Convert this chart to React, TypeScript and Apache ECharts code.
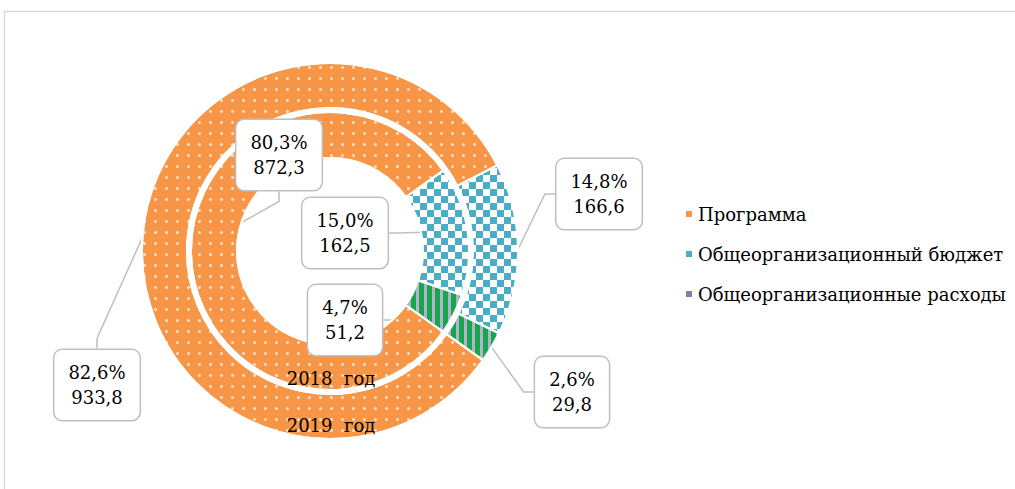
import React, { useEffect, useRef } from 'react';
import * as echarts from 'echarts';

const categories = ['Программа', 'Общеорганизационный бюджет', 'Общеорганизационные расходы'];
const values2018 = [872.3, 162.5, 51.2];
const values2019 = [933.8, 166.6, 29.8];
const percents2018 = [80.3, 15.0, 4.7];
const percents2019 = [82.6, 14.8, 2.6];
const yearLabels = ['2018  год', '2019  год'];

const legendColors = ['#F79646', '#4BACC6', '#8580A8'];

// label box centres [series][dataIndex]
const labelPos = [
  [[279, 155], [345, 233], [345, 320]],
  [[97, 385], [599, 194], [572, 392]],
];

const CX = 330;
const CY = 251;
const FONT = 'DejaVu Serif';
const FS = 18;

const itemStyles: any[] = [
  {
    color: '#F79646',
    decal: {
      symbol: 'circle',
      symbolSize: 1,
      color: 'rgba(255,255,255,0.7)',
      dashArrayX: [3, 8],
      dashArrayY: [3, 8],
    },
  },
  {
    color: '#FFFFFF',
    decal: {
      symbol: 'rect',
      symbolSize: 1,
      symbolKeepAspect: false,
      color: '#4BACC6',
      dashArrayX: [[7, 7], [0, 7, 7, 0]],
      dashArrayY: [7, 0],
    },
  },
  {
    color: '#17A64E',
    decal: {
      symbol: 'rect',
      symbolSize: 1,
      symbolKeepAspect: false,
      color: 'rgba(185,180,208,0.95)',
      dashArrayX: [3, 5],
      dashArrayY: [1, 0],
    },
  },
];

const fmt = (n: number) => n.toFixed(1).replace('.', ',');

function buildSeries(idx: number, values: number[], percents: number[], radius: number[], z: number) {
  return {
    type: 'pie',
    name: yearLabels[idx],
    center: [CX, CY],
    radius,
    startAngle: -35.5,
    clockwise: true,
    avoidLabelOverlap: false,
    z,
    emphasis: { disabled: true },
    itemStyle: { borderColor: '#ffffff', borderWidth: 2 },
    data: categories.map((name, i) => ({
      name,
      value: values[i],
      itemStyle: itemStyles[i],
    })),
    label: {
      show: true,
      position: 'outside',
      formatter: (p: any) => `${fmt(percents[p.dataIndex])}%\n${fmt(values[p.dataIndex])}`,
      fontFamily: FONT,
      fontSize: FS,
      lineHeight: 25,
      color: '#000',
      align: 'center',
      backgroundColor: '#ffffff',
      borderColor: '#BFBFBF',
      borderWidth: 1.5,
      borderRadius: 8,
      padding: [10, 14],
    },
    labelLine: {
      show: true,
      length: 10,
      length2: 10,
      maxSurfaceAngle: 180,
      lineStyle: { color: '#BFBFBF', width: 1.5 },
    },
    labelLayout: (p: any) => ({
      x: labelPos[idx][p.dataIndex][0],
      y: labelPos[idx][p.dataIndex][1],
      align: 'center',
      verticalAlign: 'middle',
    }),
  };
}

export default function App() {
  const ref = useRef<HTMLDivElement>(null);
  useEffect(() => {
    const chart = echarts.init(ref.current!, null, { renderer: 'svg' });
    const option: any = {
      animation: false,
      backgroundColor: '#ffffff',
      textStyle: { fontFamily: FONT },
      legend: {
        orient: 'vertical',
        left: 679,
        top: 200,
        itemWidth: 8,
        itemHeight: 8,
        itemGap: 22,
        icon: 'rect',
        selectedMode: false,
        textStyle: { fontFamily: FONT, fontSize: FS, color: '#000' },
        data: categories.map((name, i) => ({
          name,
          itemStyle: { color: legendColors[i], decal: 'none' },
        })),
      },
      graphic: [
        {
          type: 'rect',
          shape: { x: 4.5, y: 11.5, width: 1200, height: 700 },
          style: { fill: 'none', stroke: '#D9D9D9', lineWidth: 1.5 },
          silent: true,
        },
        {
          type: 'text',
          x: CX + 1,
          y: 378,
          z: 100,
          style: { text: yearLabels[0], fontFamily: FONT, fontSize: FS, fill: '#000', align: 'center', verticalAlign: 'middle' },
        },
        {
          type: 'text',
          x: CX + 1,
          y: 425,
          z: 100,
          style: { text: yearLabels[1], fontFamily: FONT, fontSize: FS, fill: '#000', align: 'center', verticalAlign: 'middle' },
        },
      ],
      series: [
        buildSeries(0, values2018, percents2018, [93, 139], 3),
        buildSeries(1, values2019, percents2019, [143, 188], 2),
      ],
    };
    chart.setOption(option);
    return () => chart.dispose();
  }, []);
  return (
    <div
      ref={ref}
      style={{ position: 'absolute', left: 0, top: 0, width: 1015, height: 489, background: '#fff' }}
    />
  );
}
